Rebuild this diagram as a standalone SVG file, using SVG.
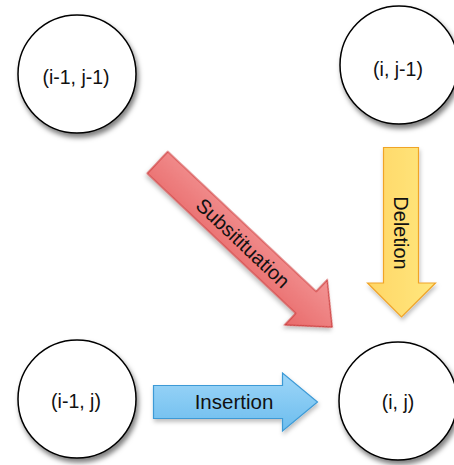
<svg xmlns="http://www.w3.org/2000/svg" width="454" height="465" viewBox="0 0 454 465">
<defs>
<filter id="sh" x="-30%" y="-30%" width="160%" height="160%">
<feDropShadow dx="2" dy="4" stdDeviation="2.5" flood-color="#000" flood-opacity="0.5"/>
</filter>
<filter id="sha" x="-30%" y="-30%" width="160%" height="160%">
<feDropShadow dx="1" dy="3" stdDeviation="2" flood-color="#000" flood-opacity="0.25"/>
</filter>
<linearGradient id="gRed" x1="0" y1="0" x2="0" y2="1">
<stop offset="0" stop-color="#f39494"/>
<stop offset="1" stop-color="#e86a6a"/>
</linearGradient>
<linearGradient id="gYel" x1="0" y1="0" x2="1" y2="0">
<stop offset="0" stop-color="#ffd666"/>
<stop offset="1" stop-color="#ffe77e"/>
</linearGradient>
<linearGradient id="gBlue" x1="0" y1="0" x2="0" y2="1">
<stop offset="0" stop-color="#9ed6f8"/>
<stop offset="1" stop-color="#6cbdee"/>
</linearGradient>
</defs>
<style>
.node circle{fill:#fff;stroke:#000;stroke-width:1.5;filter:url(#sh)}
text{font-family:"Liberation Sans",Arial,sans-serif;fill:#111}
.nl{font-size:19.5px;text-anchor:middle}
.al{font-size:20px;text-anchor:middle}
</style>
<g id="connectors">
<g id="substitution">
<path transform="translate(157.5,162.5) rotate(43.3)" d="M0,-15 H204 V-31 L240,0 L204,31 V15 H0 Z" fill="url(#gRed)" stroke="#cc3a3a" stroke-width="1.2" filter="url(#sha)"/>
<text class="al" transform="translate(243,243) rotate(43.3)" y="7">Subsitituation</text>
</g>
<g id="deletion">
<path d="M383.5,147.5 H418.5 V283 H435.5 L401.5,317 L367.5,283 H383.5 Z" fill="url(#gYel)" stroke="#f0a428" stroke-width="1.2" filter="url(#sha)"/>
<text class="al" transform="translate(393.5,233) rotate(90)">Deletion</text>
</g>
<g id="insertion">
<path d="M153.5,385.5 H282.5 V373 L317.5,402 L282.5,431 V418.5 H153.5 Z" fill="url(#gBlue)" stroke="#3d9ad6" stroke-width="1.2" filter="url(#sha)"/>
<text class="al" x="234" y="409" style="font-size:20.5px">Insertion</text>
</g>
</g>
<g id="n_im1_jm1" class="node">
<circle cx="77" cy="74" r="59"/>
<text class="nl" x="76" y="84">(i-1, j-1)</text>
</g>
<g id="n_i_jm1" class="node">
<circle cx="399" cy="65" r="59"/>
<text class="nl" x="398" y="76">(i, j-1)</text>
</g>
<g id="n_im1_j" class="node">
<circle cx="77" cy="399" r="59"/>
<text class="nl" x="76" y="408">(i-1, j)</text>
</g>
<g id="n_i_j" class="node">
<circle cx="398" cy="401" r="59"/>
<text class="nl" x="398" y="409">(i, j)</text>
</g>
</svg>
